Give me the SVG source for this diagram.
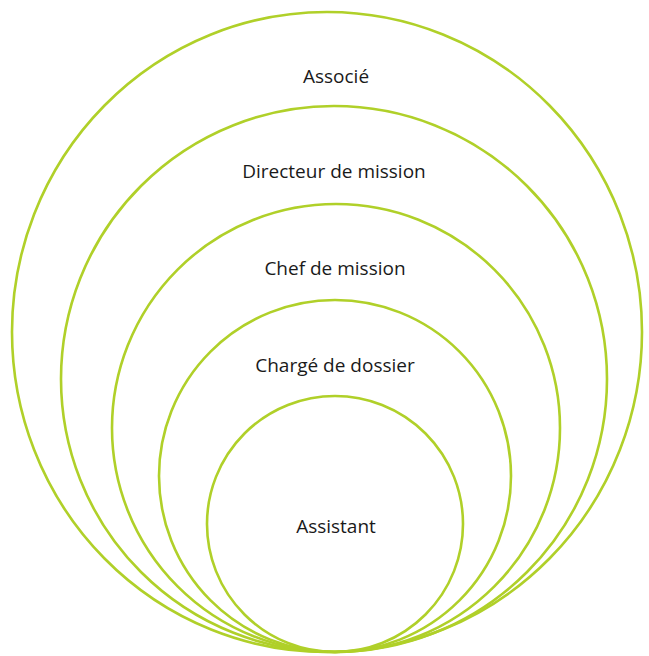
<svg xmlns="http://www.w3.org/2000/svg" width="649" height="656" viewBox="0 0 649 656">
<style>
.ring{fill:none;stroke:#b0d029;stroke-width:2.6}
.lbl{font-family:"Open Sans","Noto Sans","Liberation Sans",sans-serif;font-size:19px;fill:#1a1a1a;text-anchor:middle}
</style>
<rect width="649" height="656" fill="#ffffff"/>
<g id="associe">
<ellipse class="ring" cx="327" cy="332" rx="315" ry="320"/>
<text class="lbl" x="336" y="83">Associé</text>
</g>
<g id="directeur">
<circle class="ring" cx="334" cy="379" r="273"/>
<text class="lbl" x="334" y="178">Directeur de mission</text>
</g>
<g id="chef">
<circle class="ring" cx="336" cy="428" r="224"/>
<text class="lbl" x="335" y="275">Chef de mission</text>
</g>
<g id="charge">
<circle class="ring" cx="335" cy="476" r="176"/>
<text class="lbl" x="335" y="372">Chargé de dossier</text>
</g>
<g id="assistant">
<circle class="ring" cx="335" cy="524" r="128"/>
<text class="lbl" x="336" y="533">Assistant</text>
</g>
<g id="connectors"/>
</svg>
